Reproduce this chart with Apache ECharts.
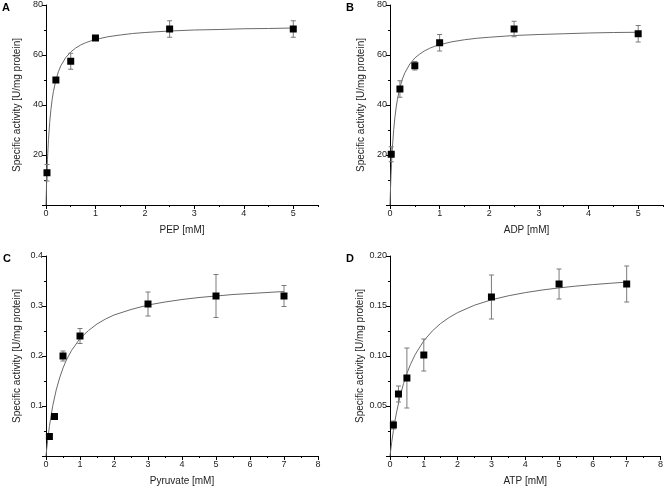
<!DOCTYPE html>
<html>
<head>
<meta charset="utf-8">
<script src="https://cdn.jsdelivr.net/npm/echarts@6/dist/echarts.min.js"></script>
<style>
html,body{margin:0;padding:0;background:#fff;}
#chart{width:666px;height:488px;}
</style>
</head>
<body>
<div id="chart"></div>
<script>
// ---- Data ----
// Panel A: PEP
const pepX   = [0.02, 0.2, 0.5, 1, 2.5, 5];
const pepY   = [12.9, 50.0, 57.5, 66.8, 70.4, 70.4];
const pepErr = [3.3, 0.8, 3.2, 0.9, 3.3, 3.3];
const pepFitX = [0, 0.01, 0.02, 0.03, 0.05, 0.075, 0.1, 0.125, 0.15, 0.2, 0.25, 0.3, 0.4, 0.5, 0.6, 0.7, 0.8, 0.9, 1, 1.25, 1.5, 1.75, 2, 2.5, 3, 3.5, 4, 4.5, 5];
const pepFitY = [0, 7.35, 13.3, 18.3, 26.1, 33.1, 38.3, 42.3, 45.4, 50.0, 53.3, 55.7, 59.0, 61.2, 62.8, 64.0, 64.9, 65.6, 66.2, 67.3, 68.0, 68.6, 69.0, 69.6, 70.0, 70.2, 70.5, 70.6, 70.8];

// Panel B: ADP
const adpX   = [0.025, 0.2, 0.5, 1, 2.5, 5];
const adpY   = [20.3, 46.4, 55.7, 64.9, 70.4, 68.5];
const adpErr = [3.0, 3.3, 1.7, 3.3, 3.1, 3.3];
const adpFitX = [0, 0.01, 0.02, 0.03, 0.05, 0.075, 0.1, 0.125, 0.15, 0.2, 0.25, 0.3, 0.4, 0.5, 0.6, 0.7, 0.8, 0.9, 1, 1.25, 1.5, 1.75, 2, 2.5, 3, 3.5, 4, 4.5, 5];
const adpFitY = [0, 6.4, 11.8, 16.3, 23.5, 30.2, 35.3, 39.2, 42.3, 47.0, 50.4, 52.9, 56.4, 58.8, 60.4, 61.7, 62.7, 63.5, 64.1, 65.3, 66.1, 66.7, 67.1, 67.8, 68.2, 68.5, 68.8, 69.0, 69.1];

// Panel C: Pyruvate
const pyrX   = [0.1, 0.25, 0.5, 1, 3, 5, 7];
const pyrY   = [0.039, 0.079, 0.200, 0.240, 0.304, 0.320, 0.320];
const pyrErr = [0.002, 0.003, 0.010, 0.015, 0.024, 0.043, 0.021];
const pyrFitX = [0, 0.025, 0.05, 0.1, 0.15, 0.2, 0.3, 0.4, 0.5, 0.6, 0.75, 1, 1.25, 1.5, 1.75, 2, 2.5, 3, 3.5, 4, 4.5, 5, 5.5, 6, 6.5, 7];
const pyrFitY = [0, 0.017, 0.032, 0.059, 0.081, 0.101, 0.132, 0.156, 0.176, 0.192, 0.211, 0.235, 0.251, 0.264, 0.274, 0.282, 0.293, 0.302, 0.308, 0.313, 0.317, 0.320, 0.323, 0.325, 0.327, 0.329];

// Panel D: ATP
const atpX   = [0.1, 0.25, 0.5, 1, 3, 5, 7];
const atpY   = [0.031, 0.062, 0.078, 0.101, 0.159, 0.172, 0.172];
const atpErr = [0.004, 0.008, 0.030, 0.016, 0.022, 0.015, 0.018];
const atpFitX = [0, 0.025, 0.05, 0.1, 0.15, 0.2, 0.3, 0.4, 0.5, 0.6, 0.75, 1, 1.25, 1.5, 1.75, 2, 2.5, 3, 3.5, 4, 4.5, 5, 5.5, 6, 6.5, 7];
const atpFitY = [0, 0.0070, 0.0136, 0.0253, 0.0356, 0.0447, 0.0600, 0.0724, 0.0826, 0.0912, 0.1018, 0.1152, 0.1250, 0.1326, 0.1385, 0.1434, 0.1508, 0.1562, 0.1602, 0.1634, 0.1660, 0.1681, 0.1699, 0.1714, 0.1727, 0.1739];

// Axis settings
const xMaxAB = 5.5, xMaxCD = 8;
const xMajorAB = [0, 1, 2, 3, 4, 5];
const xMinorAB = [0.5, 1.5, 2.5, 3.5, 4.5, 5.5];
const yMaxAB = 80, yIntAB = 20;
const yMaxC = 0.4, yIntC = 0.1;
const yMaxD = 0.2, yIntD = 0.05;
const xNames = ['PEP [mM]', 'ADP [mM]', 'Pyruvate [mM]', 'ATP [mM]'];
const yName = 'Specific activity [U/mg protein]';
const panelLetters = ['A', 'B', 'C', 'D'];

// ---- Build chart ----
const FONT = '"Liberation Sans", Arial, sans-serif';
const grids = [
  {left: 46, top: 5, width: 272, height: 200},
  {left: 390, top: 5, width: 273, height: 200},
  {left: 46, top: 256, width: 272, height: 200},
  {left: 390, top: 256, width: 272, height: 200}
];

function zip(a, b, c) { return a.map((v, i) => c ? [v, b[i], c[i]] : [v, b[i]]); }

const lineStyle = {color: '#000', width: 1};
const xAxes = [], yAxes = [];
const yCfg = [
  {max: yMaxAB, interval: yIntAB, fmt: v => v === 0 ? '' : String(v)},
  {max: yMaxAB, interval: yIntAB, fmt: v => v === 0 ? '' : String(v)},
  {max: yMaxC, interval: yIntC, fmt: v => v === 0 ? '' : v.toFixed(1)},
  {max: yMaxD, interval: yIntD, fmt: v => v === 0 ? '' : v.toFixed(2)}
];

for (let i = 0; i < 4; i++) {
  const isAB = i < 2;
  const xMax = isAB ? xMaxAB : xMaxCD;
  const xa = {
    type: 'value', gridIndex: i, min: 0, max: xMax, interval: 1,
    name: xNames[i], nameLocation: 'middle', nameGap: 20,
    nameTextStyle: {fontFamily: FONT, fontSize: 10, color: '#222'},
    axisLine: {show: true, onZero: false, lineStyle: lineStyle},
    axisTick: {show: true, inside: false, length: 4, lineStyle: lineStyle},
    axisLabel: {fontFamily: FONT, fontSize: 9, color: '#222', margin: 4},
    splitLine: {show: false}
  };
  if (isAB) {
    xa.axisTick.customValues = xMajorAB;
    xa.axisLabel.customValues = xMajorAB;
  } else {
    xa.minorTick = {show: true, splitNumber: 2, length: 2, lineStyle: lineStyle};
  }
  xAxes.push(xa);
  yAxes.push({
    type: 'value', gridIndex: i, min: 0, max: yCfg[i].max, interval: yCfg[i].interval,
    name: yName, nameLocation: 'middle', nameGap: 24,
    nameTextStyle: {fontFamily: FONT, fontSize: 10, color: '#222'},
    axisLine: {show: true, onZero: false, lineStyle: lineStyle},
    axisTick: {show: true, inside: false, length: 4, lineStyle: lineStyle},
    minorTick: {show: true, splitNumber: 2, length: 2, lineStyle: lineStyle},
    axisLabel: {fontFamily: FONT, fontSize: 9, color: '#222', margin: 3, formatter: yCfg[i].fmt},
    splitLine: {show: false}
  });
}
// overlay minor-tick x axes for A and B
for (let i = 0; i < 2; i++) {
  xAxes.push({
    type: 'value', gridIndex: i, min: 0, max: xMaxAB, interval: 0.5, position: 'bottom',
    axisLine: {show: false},
    axisTick: {show: true, length: 2, customValues: xMinorAB, lineStyle: lineStyle},
    axisLabel: {show: false},
    splitLine: {show: false}
  });
}

function errRender(params, api) {
  const x = api.value(0), y = api.value(1), e = api.value(2);
  const top = api.coord([x, y + e]);
  const bot = api.coord([x, y - e]);
  const w = 2.5;
  const st = {stroke: '#7a7a7a', lineWidth: 1};
  return {
    type: 'group',
    children: [
      {type: 'line', shape: {x1: top[0], y1: top[1], x2: bot[0], y2: bot[1]}, style: st},
      {type: 'line', shape: {x1: top[0] - w, y1: top[1], x2: top[0] + w, y2: top[1]}, style: st},
      {type: 'line', shape: {x1: bot[0] - w, y1: bot[1], x2: bot[0] + w, y2: bot[1]}, style: st}
    ]
  };
}

const sets = [
  [pepX, pepY, pepErr, pepFitX, pepFitY],
  [adpX, adpY, adpErr, adpFitX, adpFitY],
  [pyrX, pyrY, pyrErr, pyrFitX, pyrFitY],
  [atpX, atpY, atpErr, atpFitX, atpFitY]
];
const series = [];
sets.forEach((s, i) => {
  series.push({
    type: 'line', xAxisIndex: i, yAxisIndex: i, data: zip(s[3], s[4]),
    smooth: false, showSymbol: false, silent: true,
    lineStyle: {color: '#6a6a6a', width: 1}, z: 2
  });
  series.push({
    type: 'custom', xAxisIndex: i, yAxisIndex: i, data: zip(s[0], s[1], s[2]),
    renderItem: errRender, silent: true, z: 3
  });
  series.push({
    type: 'scatter', xAxisIndex: i, yAxisIndex: i, data: zip(s[0], s[1]),
    symbol: 'rect', symbolSize: 7, itemStyle: {color: '#000', opacity: 1}, silent: true, z: 4
  });
});

const letterPos = [[2, 2], [346, 2], [3, 253], [346, 253]];
const graphic = panelLetters.map((t, i) => ({
  type: 'text', left: letterPos[i][0], top: letterPos[i][1],
  style: {text: t, font: 'bold 11px ' + FONT, fill: '#000'}
}));

const chart = echarts.init(document.getElementById('chart'), null, {renderer: 'canvas'});
chart.setOption({
  animation: false,
  backgroundColor: '#fff',
  grid: grids,
  xAxis: xAxes,
  yAxis: yAxes,
  series: series,
  graphic: graphic
});
</script>
</body>
</html>
